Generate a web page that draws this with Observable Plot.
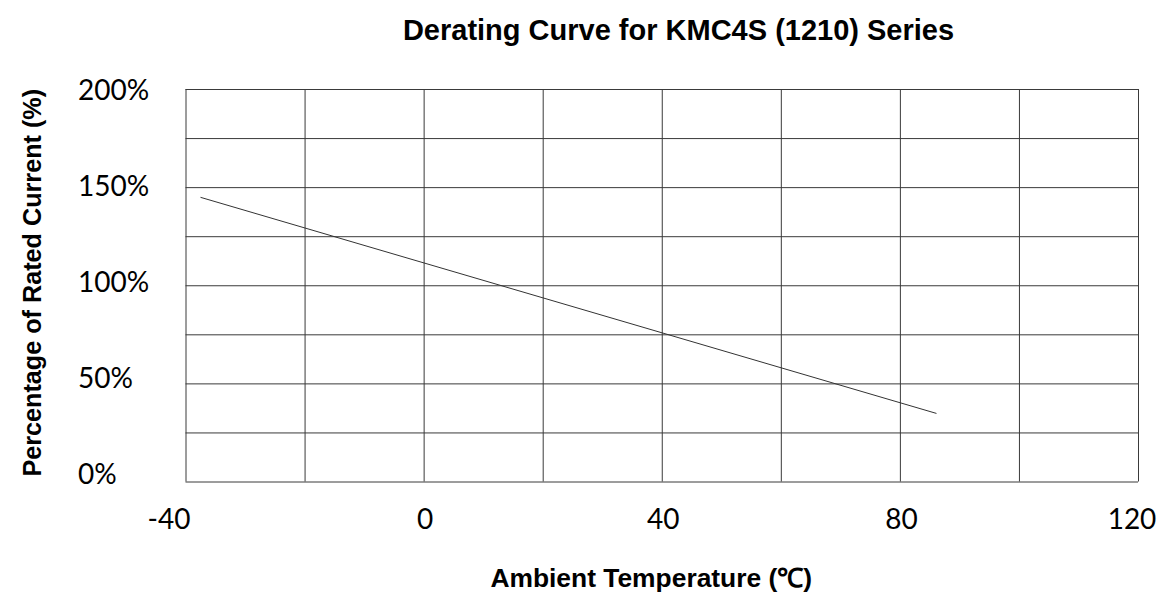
<!DOCTYPE html>
<html>
<head>
<meta charset="utf-8">
<script src="https://cdn.jsdelivr.net/npm/d3@7"></script>
<script src="https://cdn.jsdelivr.net/npm/@observablehq/plot@0.6"></script>
<style>
  html, body { margin: 0; padding: 0; background: #fff; }
  #title { height: 60px; box-sizing: border-box; padding-top: 16px; padding-left: 198px; text-align: center;
           font: bold 29px/29px "Liberation Sans", Arial, sans-serif; color: #000; white-space: nowrap; }
</style>
</head>
<body>
<div id="title">Derating Curve for KMC4S (1210) Series</div>
<div id="chart"></div>
<script>
// Data
const temperature = [-37.5, 86];          // °C
const ratedCurrent = [145, 35];           // %
const xTicks = [-40, 0, 40, 80, 120];
const xGrid = [-40, -20, 0, 20, 40, 60, 80, 100, 120];
const yTicks = [0, 50, 100, 150, 200];
const yGrid = [0, 25, 50, 75, 100, 125, 150, 175, 200];

const data = temperature.map((t, i) => ({t, p: ratedCurrent[i]}));
const tickFont = "Lato, 'Open Sans', sans-serif";
const labelFont = "'Liberation Sans', Arial, sans-serif";
const gridColor = "#3a3a3a";

// small label nudges seen in the reference (edge labels pushed inward, y labels slightly compressed)
const xLabelDx = d => d === -40 ? -17 : d === 120 ? -6.5 : 1;
const yLabelDy = v => -7 + 0.045 * v;

const marks = [
  Plot.ruleX(xGrid, {stroke: gridColor, strokeWidth: 1}),
  Plot.ruleY(yGrid, {stroke: gridColor, strokeWidth: 1}),
  Plot.line(data, {x: "t", y: "p", stroke: "#333", strokeWidth: 1}),
  ...xTicks.map(v => Plot.text([v], {x: d => d, frameAnchor: "bottom", dy: 38.5, dx: xLabelDx(v),
    text: d => String(d), lineAnchor: "middle", textAnchor: "middle",
    fontSize: 28, fontFamily: tickFont, fill: "#000"})),
  ...yTicks.map(v => Plot.text([v], {y: d => d, frameAnchor: "left", dx: -108, dy: yLabelDy(v),
    text: d => d + "%", lineAnchor: "middle", textAnchor: "start",
    fontSize: 28, fontFamily: tickFont, fill: "#000"})),
  Plot.text(["Percentage of Rated Current (%)"], {frameAnchor: "left", dx: -153, dy: -3, rotate: -90,
    textAnchor: "middle", lineAnchor: "middle",
    fontSize: 25.2, fontWeight: "bold", fontFamily: labelFont, fill: "#000"}),
  Plot.text(["Ambient Temperature (\u2103)"], {frameAnchor: "bottom", dx: -11, dy: 97,
    textAnchor: "middle", lineAnchor: "middle",
    fontSize: 26.4, fontWeight: "bold", fontFamily: labelFont, fill: "#000"})
];

const chart = Plot.plot({
  width: 1159,
  height: 532,
  marginTop: 29,
  marginBottom: 110.5,
  marginLeft: 185.5,
  marginRight: 21,
  style: {background: "#fff", overflow: "visible"},
  x: {domain: [-40, 120], axis: null},
  y: {domain: [0, 200], axis: null},
  marks
});
document.getElementById("chart").appendChild(chart);
</script>
</body>
</html>
